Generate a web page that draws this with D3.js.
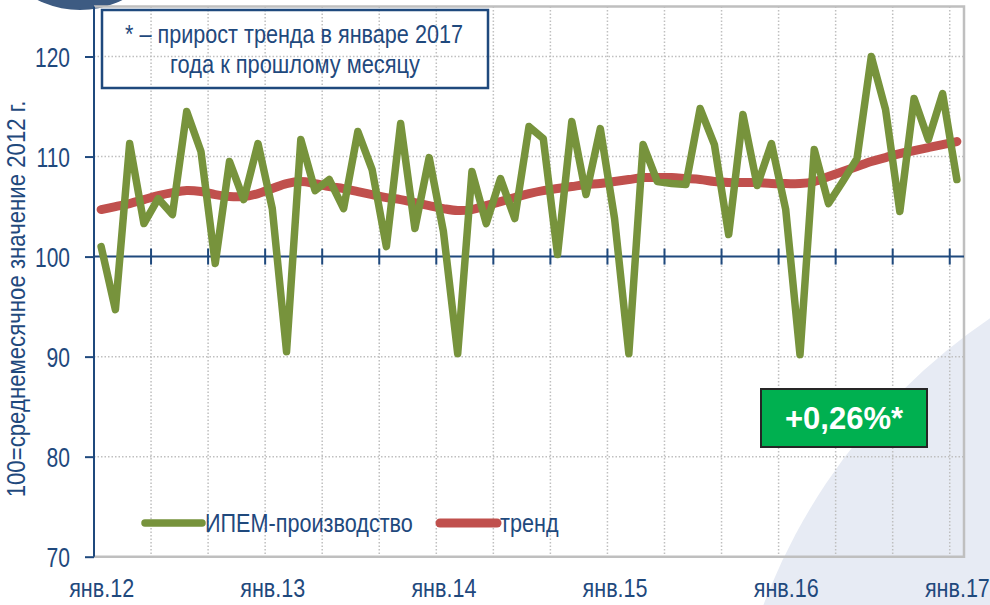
<!DOCTYPE html>
<html>
<head>
<meta charset="utf-8">
<script src="https://cdn.jsdelivr.net/npm/d3@7"></script>
<style>
  body { margin: 0; background: #fff; }
  svg { display: block; }
  text { font-family: "Liberation Sans", Arial, sans-serif; fill: #1F497D; }
</style>
</head>
<body>
<svg id="chart" width="990" height="605"></svg>
<script>
// x-axis labels, one every 12 months (index into the series)
const tickLabels = ["янв.12", "янв.13", "янв.14", "янв.15", "янв.16", "янв.17"];
const yTicks = [70, 80, 90, 100, 110, 120];

// ИПЕМ-производство, monthly, Jan 2012 .. Jan 2017
const ipem = [
  101.0, 94.7, 111.3, 103.3, 105.8, 104.2, 114.5, 110.5, 99.3, 109.5, 105.7, 111.3,
  104.8, 90.5, 111.7, 106.6, 107.7, 104.8, 112.5, 108.7, 101.0, 113.3, 102.8, 109.9,
  102.5, 90.3, 108.5, 103.3, 107.8, 103.8, 113.0, 111.8, 100.2, 113.5, 106.2, 112.8,
  103.8, 90.3, 111.2, 107.5, 107.3, 107.2, 114.8, 111.2, 102.2, 114.2, 107.1, 111.3,
  104.7, 90.2, 110.7, 105.3, 107.5, 109.8, 120.0, 114.7, 104.5, 115.8, 111.7, 116.3,
  107.7
];

// тренд
const trend = [
  104.7, 105.0, 105.3, 105.7, 106.1, 106.4, 106.6, 106.5, 106.2, 106.0, 106.0, 106.3,
  106.8, 107.3, 107.5, 107.3, 107.0, 106.8, 106.5, 106.2, 105.9, 105.7, 105.4, 105.1,
  104.8, 104.6, 104.7, 105.1, 105.5, 105.9, 106.3, 106.6, 106.8, 107.0, 107.2, 107.3,
  107.5, 107.7, 107.9, 107.9, 107.9, 107.8, 107.7, 107.5, 107.4, 107.4, 107.4, 107.3,
  107.3, 107.3, 107.5, 108.0, 108.5, 109.0, 109.5, 109.9, 110.3, 110.6, 110.9, 111.2,
  111.5
];

const blue = "#1F497D";
const svg = d3.select("#chart");

// no narrow font installed: squeeze text horizontally around its anchor.
// w = wanted width of the first text in the selection, same factor for the rest
function narrow(sel, w) {
    const k = w / sel.node().getComputedTextLength();
    sel.each(function () {
        const t = d3.select(this);
        const tx = +t.attr("x") || 0, ty = +t.attr("y") || 0;
        t.attr("x", 0).attr("y", 0)
            .attr("transform", `translate(${tx},${ty}) scale(${k},1)`);
    });
}

// decorative background shapes
svg.append("circle")
    .attr("cx", 1330).attr("cy", 820).attr("r", 606)
    .attr("fill", "#E7EBF4");
svg.append("circle")
    .attr("cx", 80).attr("cy", -85).attr("r", 95)
    .attr("fill", "#3D5B82");

const n = ipem.length;
const x = d3.scaleLinear().domain([-0.5, n - 0.5]).range([94, 964]);
const y = d3.scaleLinear().domain([70, 125]).range([556.7, 6.5]);

const pLeft = x(-0.5), pRight = x(n - 0.5), pTop = y(125), pBottom = y(70);

// gridlines
const vGrid = d3.range(3, n - 1, 4).map(i => i + 0.5);
svg.append("g")
    .selectAll("line")
    .data(vGrid)
    .enter().append("line")
    .attr("x1", d => x(d)).attr("x2", d => x(d))
    .attr("y1", pTop).attr("y2", pBottom)
    .attr("stroke", "#BFBFBF")
    .attr("stroke-width", 1.5)
    .attr("stroke-dasharray", "1.5,2");

svg.append("g")
    .selectAll("line")
    .data(yTicks.filter(d => d !== 70 && d !== 100))
    .enter().append("line")
    .attr("x1", pLeft).attr("x2", pRight)
    .attr("y1", d => y(d)).attr("y2", d => y(d))
    .attr("stroke", "#BFBFBF")
    .attr("stroke-width", 1.5)
    .attr("stroke-dasharray", "1.5,2");

// plot area border (top, right, bottom)
svg.append("path")
    .attr("d", `M${pLeft},${pTop}H${pRight}V${pBottom}H${pLeft}`)
    .attr("fill", "none")
    .attr("stroke", "#BFBFBF")
    .attr("stroke-width", 2.5);

// y axis
const yAxis = svg.append("g")
    .attr("transform", `translate(${pLeft},0)`)
    .call(d3.axisLeft(y).tickValues(yTicks).tickSize(9).tickPadding(15));
yAxis.select(".domain")
    .attr("d", `M0,${pTop}V${pBottom}`)
    .attr("stroke", blue).attr("stroke-width", 2);
yAxis.selectAll(".tick line").attr("stroke", blue).attr("stroke-width", 2);
yAxis.selectAll(".tick text")
    .attr("fill", blue)
    .style("font-family", "'Liberation Sans', Arial, sans-serif")
    .style("font-size", "27px")
    .attr("dy", "0.36em");
yAxis.selectAll(".tick text").filter(d => d >= 100).call(narrow, 35);
yAxis.selectAll(".tick text").filter(d => d < 100).call(narrow, 23.5);

// horizontal axis at 100 with crossing tick marks
svg.append("line")
    .attr("x1", pLeft).attr("x2", pRight)
    .attr("y1", y(100)).attr("y2", y(100))
    .attr("stroke", blue).attr("stroke-width", 2);
svg.append("g")
    .selectAll("line")
    .data(vGrid)
    .enter().append("line")
    .attr("x1", d => x(d)).attr("x2", d => x(d))
    .attr("y1", y(100) - 8).attr("y2", y(100) + 8)
    .attr("stroke", blue).attr("stroke-width", 2);

// category labels below the plot
const xAxis = svg.append("g")
    .attr("transform", `translate(0,${pBottom})`)
    .call(d3.axisBottom(x)
        .tickValues(tickLabels.map((d, i) => i * 12))
        .tickFormat((d, i) => tickLabels[i])
        .tickSize(0).tickPadding(22));
xAxis.select(".domain").remove();
xAxis.selectAll("text")
    .attr("fill", blue)
    .style("font-family", "'Liberation Sans', Arial, sans-serif")
    .style("font-size", "26px")
    .call(narrow, 65);

// y axis title
const yTitle = svg.append("text")
    .attr("text-anchor", "middle")
    .style("font-size", "25px")
    .text("100=среднемесячное значение 2012 г.");
yTitle.attr("transform",
    `translate(25,299) rotate(-90) scale(${397 / yTitle.node().getComputedTextLength()},1)`);

// series
svg.append("path")
    .datum(trend)
    .attr("d", d3.line().x((d, i) => x(i)).y(d => y(d)).curve(d3.curveCatmullRom))
    .attr("fill", "none")
    .attr("stroke", "#C0504D")
    .attr("stroke-width", 9)
    .attr("stroke-linecap", "round");

svg.append("path")
    .datum(ipem)
    .attr("d", d3.line().x((d, i) => x(i)).y(d => y(d)))
    .attr("fill", "none")
    .attr("stroke", "#77933C")
    .attr("stroke-width", 7.5)
    .attr("stroke-linejoin", "round")
    .attr("stroke-linecap", "round");

// note box
svg.append("rect")
    .attr("x", 102).attr("y", 10)
    .attr("width", 386).attr("height", 78)
    .attr("fill", "none")
    .attr("stroke", blue).attr("stroke-width", 2.5);
svg.append("text")
    .attr("x", 294).attr("y", 43)
    .attr("text-anchor", "middle")
    .style("font-size", "25px")
    .text("* – прирост тренда в январе 2017")
    .call(narrow, 338);
svg.append("text")
    .attr("x", 295).attr("y", 73)
    .attr("text-anchor", "middle")
    .style("font-size", "25px")
    .text("года к прошлому месяцу")
    .call(narrow, 250);

// legend
const legend = [
  { name: "ИПЕМ-производство", color: "#77933C", width: 7.5, x: 145 },
  { name: "тренд", color: "#C0504D", width: 9, x: 440 }
];
const lg = svg.append("g")
    .selectAll("g")
    .data(legend)
    .enter().append("g")
    .attr("transform", d => `translate(${d.x},523)`);
lg.append("line")
    .attr("x1", 0).attr("x2", 57)
    .attr("stroke", d => d.color)
    .attr("stroke-width", d => d.width)
    .attr("stroke-linecap", "round");
lg.append("text")
    .attr("x", 60).attr("y", 9)
    .style("font-size", "26px")
    .text(d => d.name)
    .call(narrow, 208);

// growth badge
svg.append("rect")
    .attr("x", 761).attr("y", 389)
    .attr("width", 166).attr("height", 58)
    .attr("fill", "#00B050")
    .attr("stroke", "#262626").attr("stroke-width", 2);
svg.append("text")
    .attr("x", 844).attr("y", 429)
    .attr("text-anchor", "middle")
    .style("font-size", "31px")
    .style("font-weight", "bold")
    .style("fill", "#fff")
    .text("+0,26%*");
</script>
</body>
</html>
